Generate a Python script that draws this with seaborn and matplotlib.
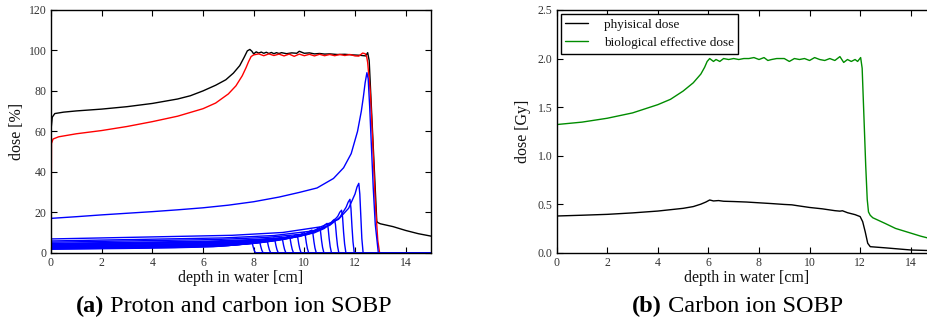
import matplotlib
matplotlib.use("Agg")
import matplotlib.pyplot as plt
import seaborn as sns
import pandas as pd

# ---------------- data ----------------
# (a) left panel
black_a_depth = [0, 0.01, 0.05, 0.15, 0.5, 1, 2, 3, 4, 5, 5.5, 6, 6.5, 6.9, 7.2, 7.45, 7.62, 7.75, 7.85,
                 7.93, 8.0, 8.1, 8.2, 8.3, 8.4, 8.5, 8.6, 8.7, 8.8, 8.9, 9.0, 9.1, 9.3, 9.5, 9.7, 9.8, 9.9,
                 10.0, 10.2, 10.4, 10.6, 10.8, 11.0, 11.3, 11.6, 11.9, 12.2, 12.42, 12.5, 12.56, 12.86, 12.9,
                 13.0, 13.5, 14.0, 14.5, 15.0]
black_a_dose = [0, 62, 67, 68.8, 69.5, 70.1, 71, 72.2, 73.8, 76, 77.6, 80, 82.8, 85.5, 88.8, 92.5, 96.5, 99.8, 100.5,
                99.6, 98.3, 99.3, 98.7, 99.2, 98.6, 99.1, 98.5, 99.0, 98.4, 98.9, 98.5, 98.9, 98.4, 98.8, 98.6, 99.6, 99.1,
                98.6, 98.8, 98.3, 98.5, 98.2, 98.3, 98.0, 98.1, 97.8, 97.6, 97.3, 98.9, 95, 15.5, 14.9,
                14.3, 12.9, 11.0, 9.4, 8.2]

red_a_depth = [0, 0.02, 0.08, 0.3, 1, 2, 3, 4, 5, 6, 6.5, 7, 7.3, 7.55, 7.7, 7.8, 7.9, 8.0, 8.2, 8.4, 8.6, 8.8,
               9.0, 9.2, 9.4, 9.6, 9.8, 10.0, 10.2, 10.4, 10.6, 10.8, 11.0, 11.2, 11.4, 11.6, 11.8, 12.0, 12.15,
               12.3, 12.4, 12.46, 12.5, 12.6, 12.7, 12.8, 12.9, 12.97, 15.0]
red_a_dose = [0, 54, 56.2, 57.3, 58.8, 60.4, 62.4, 64.8, 67.5, 71.2, 74, 78.5, 82.5, 87.5, 91.5, 94.5, 97.0, 97.8,
              98.3, 97.4, 98.3, 97.5, 98.2, 97.3, 98.2, 97.1, 98.2, 97.4, 98.1, 97.3, 98.1, 97.4, 98.0, 97.4, 98.0,
              97.5, 98.0, 97.3, 97.2, 98.7, 98.4, 97.0, 94, 80, 55, 25, 6, 0, 0]

# individual Bragg peaks (blue)
blue_depths = [
    [0, 0, 0.03, 1, 2, 3, 4, 5, 6, 7, 8, 9, 9.8, 10.5, 11.15, 11.55, 11.85, 12.1, 12.25, 12.33, 12.4, 12.47,
     12.52, 12.58, 12.65, 12.72, 12.8, 12.92, 15],
    [0, 0, 7.15, 9.15, 10.65, 11.35, 11.75, 12.0, 12.08, 12.15, 12.19, 12.23, 12.27, 12.32, 15],
    [0, 0, 6.8, 8.8, 10.3, 11.0, 11.4, 11.65, 11.73, 11.8, 11.84, 11.88, 11.92, 11.97, 15],
    [0, 0, 6.47, 8.47, 9.97, 10.67, 11.07, 11.32, 11.4, 11.47, 11.51, 11.55, 11.59, 11.64, 15],
    [0, 0, 6.19, 8.19, 9.69, 10.39, 10.79, 11.04, 11.12, 11.19, 11.23, 11.27, 11.31, 11.36, 15],
    [0, 0, 5.9, 7.9, 9.4, 10.1, 10.5, 10.75, 10.83, 10.9, 10.94, 10.98, 11.02, 11.07, 15],
    [0, 0, 5.6, 7.6, 9.1, 9.8, 10.2, 10.45, 10.53, 10.6, 10.64, 10.68, 10.72, 10.77, 15],
    [0, 0, 5.3, 7.3, 8.8, 9.5, 9.9, 10.15, 10.23, 10.3, 10.34, 10.38, 10.42, 10.47, 15],
    [0, 0, 5.0, 7.0, 8.5, 9.2, 9.6, 9.85, 9.93, 10.0, 10.04, 10.08, 10.12, 10.17, 15],
    [0, 0, 4.7, 6.7, 8.2, 8.9, 9.3, 9.55, 9.63, 9.7, 9.74, 9.78, 9.82, 9.87, 15],
    [0, 0, 4.4, 6.4, 7.9, 8.6, 9.0, 9.25, 9.33, 9.4, 9.44, 9.48, 9.52, 9.57, 15],
    [0, 0, 4.1, 6.1, 7.6, 8.3, 8.7, 8.95, 9.03, 9.1, 9.14, 9.18, 9.22, 9.27, 15],
    [0, 0, 3.8, 5.8, 7.3, 8.0, 8.4, 8.65, 8.73, 8.8, 8.84, 8.88, 8.92, 8.97, 15],
    [0, 0, 3.5, 5.5, 7.0, 7.7, 8.1, 8.35, 8.43, 8.5, 8.54, 8.58, 8.62, 8.67, 15],
    [0, 0, 3.2, 5.2, 6.7, 7.4, 7.8, 8.05, 8.13, 8.2, 8.24, 8.28, 8.32, 8.37, 15],
    [0, 0, 2.9, 4.9, 6.4, 7.1, 7.5, 7.75, 7.83, 7.9, 7.94, 7.98, 8.02, 8.07, 15],
]
blue_doses = [
    [0, 17, 17, 17.8, 18.7, 19.5, 20.3, 21.2, 22.2, 23.5, 25.2, 27.5, 29.8, 32.0, 36.7, 42, 49, 60, 70, 77, 84, 89,
     86, 72, 52, 32, 14, 0, 0],
    [0, 6.8, 8.6, 10.0, 12.8, 16.5, 22, 29, 32.5, 34.3, 29, 18, 7, 0, 0],
    [0, 5.8, 7.3, 8.5, 10.7, 13.5, 17.5, 22.5, 25, 26.4, 22, 13, 5.5, 0, 0],
    [0, 5.2, 6.5, 7.5, 9.2, 11.5, 14.5, 18, 20, 21, 17.5, 10, 4.3, 0, 0],
    [0, 4.6, 5.7, 6.6, 8.0, 9.8, 12, 14.5, 15.8, 16.5, 13.8, 8, 3.4, 0, 0],
    [0, 4.3, 5.3, 6.1, 7.4, 8.9, 10.8, 12.8, 13.9, 14.5, 12.1, 7, 3.0, 0, 0],
    [0, 4.0, 4.9, 5.6, 6.8, 8.0, 9.5, 11.2, 12.0, 12.5, 10.4, 6, 2.6, 0, 0],
    [0, 3.7, 4.5, 5.2, 6.2, 7.3, 8.6, 10.0, 10.8, 11.2, 9.3, 5.4, 2.3, 0, 0],
    [0, 3.4, 4.1, 4.7, 5.6, 6.6, 7.7, 8.9, 9.6, 10.0, 8.3, 4.8, 2.1, 0, 0],
    [0, 3.1, 3.75, 4.3, 5.1, 6.0, 7.0, 8.0, 8.6, 9.0, 7.5, 4.3, 1.9, 0, 0],
    [0, 2.8, 3.4, 3.9, 4.6, 5.5, 6.4, 7.4, 7.9, 8.3, 6.9, 4.0, 1.7, 0, 0],
    [0, 2.55, 3.1, 3.55, 4.2, 5.0, 5.9, 6.8, 7.3, 7.7, 6.4, 3.7, 1.6, 0, 0],
    [0, 2.3, 2.8, 3.2, 3.85, 4.6, 5.5, 6.4, 6.85, 7.2, 6.0, 3.5, 1.5, 0, 0],
    [0, 2.1, 2.55, 2.95, 3.55, 4.3, 5.1, 6.0, 6.45, 6.8, 5.7, 3.3, 1.4, 0, 0],
    [0, 1.9, 2.3, 2.7, 3.25, 3.95, 4.7, 5.6, 6.05, 6.4, 5.3, 3.1, 1.3, 0, 0],
    [0, 1.7, 2.1, 2.45, 2.95, 3.65, 4.4, 5.2, 5.65, 6.0, 5.0, 2.9, 1.2, 0, 0],
]

# (b) right panel
phys_depth = [0, 1, 2, 3, 4, 5, 5.4, 5.7, 5.9, 6.05, 6.2, 6.4, 6.6, 7.0, 7.5, 8.0, 8.5, 9.0, 9.3, 9.5,
              10.0, 10.5, 11.0, 11.2, 11.3, 11.5, 11.8, 12.0, 12.1, 12.2, 12.3, 12.4, 13.0, 14.0, 15.0]
phys_dose = [0.378, 0.386, 0.395, 0.41, 0.429, 0.457, 0.475, 0.50, 0.522, 0.543, 0.533, 0.537, 0.530, 0.527,
             0.522, 0.514, 0.506, 0.497, 0.493, 0.485, 0.466, 0.452, 0.433, 0.428, 0.432, 0.412, 0.392, 0.372,
             0.32, 0.216, 0.097, 0.062, 0.05, 0.028, 0.02]

bio_depth = [0, 1, 2, 3, 4, 4.5, 5, 5.4, 5.7, 5.85, 5.95, 6.05, 6.2, 6.3, 6.45, 6.6, 6.8, 7.0, 7.2, 7.4, 7.6,
             7.8, 8.0, 8.2, 8.35, 8.5, 8.7, 9.0, 9.2, 9.4, 9.6, 9.8, 10.0, 10.2, 10.4, 10.6, 10.8, 11.0, 11.2,
             11.35, 11.5, 11.65, 11.8, 11.9, 12.02, 12.08, 12.15, 12.22, 12.28, 12.33, 12.4, 12.5, 13.0, 13.4,
             13.9, 14.4, 14.7, 15.0]
bio_dose = [1.32, 1.345, 1.385, 1.44, 1.525, 1.58, 1.665, 1.75, 1.84, 1.91, 1.97, 2.0, 1.97, 1.99, 1.97, 2.0,
            1.99, 2.0, 1.99, 2.0, 2.0, 2.01, 1.99, 2.01, 1.98, 1.99, 2.0, 2.0, 1.97, 2.0, 1.99, 2.0, 1.98, 2.01,
            1.99, 1.98, 2.0, 1.98, 2.02, 1.96, 1.99, 1.97, 1.99, 1.97, 2.01, 1.9, 1.4, 0.9, 0.55, 0.42, 0.385,
            0.36, 0.30, 0.25, 0.21, 0.17, 0.15, 0.14]

x_ticks = [0, 2, 4, 6, 8, 10, 12, 14]
y_ticks_a = [0, 20, 40, 60, 80, 100, 120]
y_ticks_b = [0.0, 0.5, 1.0, 1.5, 2.0, 2.5]
legend_labels = ["phyisical dose", "biological effective dose"]
captions = [("(a)", " Proton and carbon ion SOBP"), ("(b)", " Carbon ion SOBP")]

# ---------------- style ----------------
sns.set_theme(style="ticks")
plt.rcParams["font.family"] = ["Liberation Serif", "DejaVu Serif"]
plt.rcParams["axes.linewidth"] = 1.0
plt.rcParams["xtick.direction"] = "in"
plt.rcParams["ytick.direction"] = "in"
plt.rcParams["text.color"] = "black"
plt.rcParams["axes.labelcolor"] = "#111111"

fig = plt.figure(figsize=(9.27, 3.21), dpi=100)
ax_a = fig.add_axes([51 / 927, 1 - 252.7 / 321, 380 / 927, 242.7 / 321])
ax_b = fig.add_axes([556.7 / 927, 1 - 252.7 / 321, 379.3 / 927, 242.7 / 321])

lw = 1.0


def draw(ax, xs, ys, color, label=None):
    df = pd.DataFrame({"x": xs, "y": ys})
    sns.lineplot(data=df, x="x", y="y", ax=ax, color=color, lw=lw, estimator=None, sort=False,
                 label=label, legend=False)


draw(ax_a, black_a_depth, black_a_dose, "black")
draw(ax_a, red_a_depth, red_a_dose, "#ff0000")
for xs, ys in zip(blue_depths, blue_doses):
    draw(ax_a, xs, ys, "#0000ff")

draw(ax_b, phys_depth, phys_dose, "black", legend_labels[0])
draw(ax_b, bio_depth, bio_dose, "#008c00", legend_labels[1])

for ax, yt, fmt in [(ax_a, y_ticks_a, "{:d}"), (ax_b, y_ticks_b, "{:.1f}")]:
    ax.set_xlim(0, 15)
    ax.set_ylim(yt[0], yt[-1])
    ax.set_xticks(x_ticks)
    ax.set_xticklabels([str(t) for t in x_ticks])
    ax.set_yticks(yt)
    ax.set_yticklabels([fmt.format(t) for t in yt])
    ax.tick_params(axis="both", which="both", direction="in", top=True, right=True,
                   length=4, width=0.8, labelsize=8.5, colors="black", labelcolor="#333333", pad=3)
    for s in ax.spines.values():
        s.set_visible(True)
        s.set_linewidth(1.0)
        s.set_color("black")
    ax.set_xlabel("depth in water [cm]", fontsize=11.5, labelpad=1)

ax_a.set_ylabel("dose [%]", fontsize=11.5, labelpad=3)
ax_b.set_ylabel("dose [Gy]", fontsize=11.5, labelpad=5)

leg = ax_b.legend(loc="upper left", fontsize=9.5, frameon=True, fancybox=False, edgecolor="black",
                  framealpha=1, borderaxespad=0.3, handlelength=1.7, handletextpad=1.2,
                  borderpad=0.35, labelspacing=0.45)
leg.get_frame().set_linewidth(1.0)
for t in leg.get_texts():
    t.set_color("#111111")

# captions: bold "(a)" followed by regular text, centred as a whole
cap_size = 17.5
for cx, (bold, rest) in zip([233 / 927, 737 / 927], captions):
    tmp = fig.text(cx, 0.045, bold + rest, fontsize=cap_size, ha="center", va="center")
    fig.canvas.draw()
    bb = tmp.get_window_extent()
    tmp.remove()
    tb = fig.text(bb.x0 / fig.bbox.width, 0.045, bold, fontsize=cap_size, fontweight="bold",
                  ha="left", va="center", color="black")
    fig.canvas.draw()
    bb2 = tb.get_window_extent()
    fig.text(bb2.x1 / fig.bbox.width, 0.045, rest, fontsize=cap_size, ha="left", va="center", color="black")

fig.savefig("out.png", dpi=100)
